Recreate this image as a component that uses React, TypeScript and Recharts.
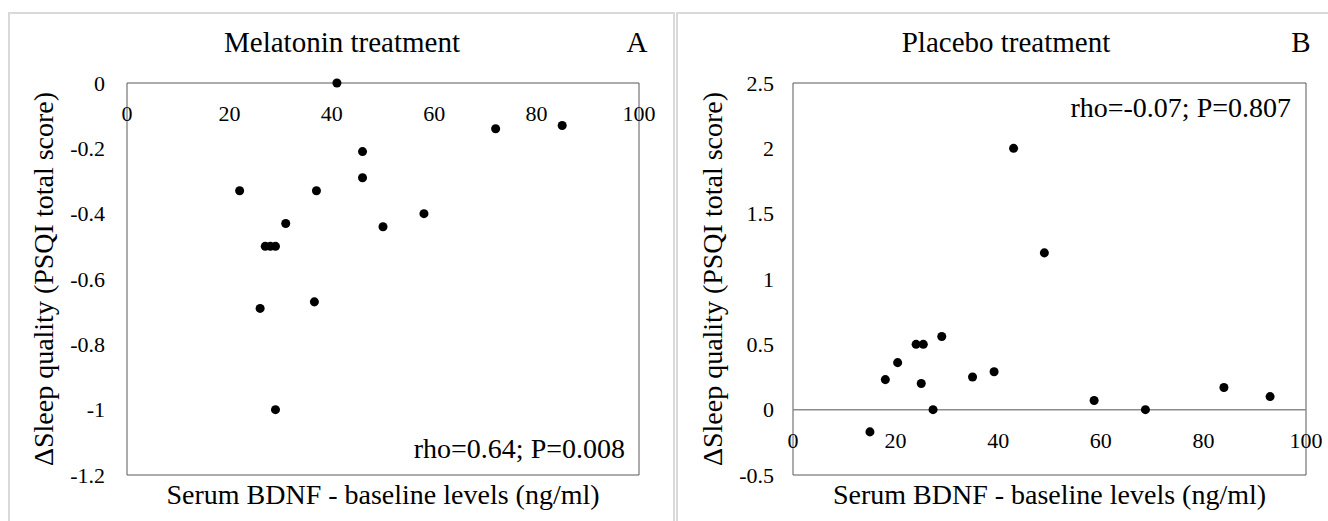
import { ReferenceArea, ReferenceDot, ReferenceLine, Scatter, ScatterChart, XAxis, YAxis } from 'recharts';

const FONT = '"Liberation Serif", "Times New Roman", serif';

// serum BDNF (x) and change in PSQI (y)
const melatoninBdnf = [41, 72, 85, 46, 46, 22, 37, 31, 50, 58, 27, 28, 29, 26, 36.6, 29];
const melatoninDelta = [0, -0.14, -0.13, -0.21, -0.29, -0.33, -0.33, -0.43, -0.44, -0.4, -0.5, -0.5, -0.5, -0.69, -0.67, -1];

const placeboBdnf = [15, 18, 20.4, 24, 25.4, 25, 29, 27.3, 35, 39.2, 43, 49, 58.7, 68.7, 84, 93];
const placeboDelta = [-0.17, 0.23, 0.36, 0.5, 0.5, 0.2, 0.56, 0, 0.25, 0.29, 2, 1.2, 0.07, 0, 0.17, 0.1];

const xTicks = [0, 20, 40, 60, 80, 100];
const melatoninYTicks = [-1.2, -1, -0.8, -0.6, -0.4, -0.2, 0];
const placeboYTicks = [-0.5, 0, 0.5, 1, 1.5, 2, 2.5];

const X_TITLE = 'Serum BDNF - baseline levels (ng/ml)';
const Y_TITLE = '\u0394Sleep quality (PSQI total score)';

const zip = (xs: number[], ys: number[]) => xs.map((x, i) => ({ x, y: ys[i] }));

// y tick text, drawn by hand so the serif font sticks
function YTick(props: any) {
  const { x, y, payload } = props;
  return (
    <text x={x} y={y} dy={7.5} textAnchor="end" fontFamily={FONT} fontSize={22} fill="#000">
      {payload.value}
    </text>
  );
}

// x tick label hanging under the y=0 axis line
function XTickAtZero(props: any) {
  const { cx, cy, label } = props;
  return (
    <text x={cx} y={cy + 38} textAnchor="middle" fontFamily={FONT} fontSize={22} fill="#000">
      {label}
    </text>
  );
}

type PanelProps = {
  left: number;
  title: string;
  letter: string;
  note: string;
  noteY: number;
  noteX: number;
  xs: number[];
  ys: number[];
  yTicks: number[];
  yAxisWidth: number;
  tickGap: number;
  marginRight: number;
  yTitleX: number;
  zeroLine?: boolean;
};

function Panel(p: PanelProps) {
  const yMin = p.yTicks[0];
  const yMax = p.yTicks[p.yTicks.length - 1];
  const plotCenter = (p.yAxisWidth + 664 - p.marginRight) / 2;
  return (
    <div style={{ position: 'absolute', left: p.left, top: 0 }}>
      <ScatterChart width={664} height={521} margin={{ top: 83, right: p.marginRight, bottom: 46, left: 0 }}>
        <XAxis type="number" dataKey="x" domain={[0, 100]} ticks={xTicks} hide />
        <YAxis
          type="number"
          dataKey="y"
          domain={[yMin, yMax]}
          ticks={p.yTicks}
          width={p.yAxisWidth}
          axisLine={false}
          tickLine={false}
          tickSize={0}
          tickMargin={p.tickGap}
          tick={<YTick />}
        />
        <ReferenceArea x1={0} x2={100} y1={yMin} y2={yMax} fill="none" stroke="#595959" strokeWidth={1} />
        {p.zeroLine && <ReferenceLine y={0} stroke="#8c8c8c" strokeWidth={1.5} />}
        {xTicks.map((t) => (
          <ReferenceDot key={t} x={t} y={0} r={1} shape={(s: any) => <XTickAtZero {...s} label={t} />} />
        ))}
        <Scatter data={zip(p.xs, p.ys)} fill="#000" isAnimationActive={false} />
        <text x={342} y={52} textAnchor="middle" fontFamily={FONT} fontSize={29} fill="#000">
          {p.title}
        </text>
        <text x={637} y={52} textAnchor="middle" fontFamily={FONT} fontSize={29} fill="#000">
          {p.letter}
        </text>
        <text x={p.noteX} y={p.noteY} textAnchor="end" fontFamily={FONT} fontSize={28} fill="#000">
          {p.note}
        </text>
        <text x={plotCenter} y={504} textAnchor="middle" fontFamily={FONT} fontSize={28} fill="#000">
          {X_TITLE}
        </text>
        <text
          x={p.yTitleX}
          y={279}
          textAnchor="middle"
          transform={`rotate(-90 ${p.yTitleX} 279)`}
          fontFamily={FONT}
          fontSize={28}
          fill="#000"
        >
          {Y_TITLE}
        </text>
      </ScatterChart>
    </div>
  );
}

export default function App() {
  return (
    <div
      style={{
        position: 'absolute',
        left: 0,
        top: 0,
        width: 1328,
        height: 521,
        overflow: 'hidden',
        background: '#fff',
        fontFamily: FONT,
      }}
    >
      <div style={{ position: 'absolute', left: 8, top: 12, width: 663, height: 540, border: '2px solid #d9d9d9' }} />
      <div style={{ position: 'absolute', left: 676, top: 12, width: 700, height: 540, border: '2px solid #d9d9d9' }} />
      <Panel
        left={0}
        title="Melatonin treatment"
        letter="A"
        note="rho=0.64; P=0.008"
        noteX={625}
        noteY={458}
        xs={melatoninBdnf}
        ys={melatoninDelta}
        yTicks={melatoninYTicks}
        yAxisWidth={127}
        tickGap={22}
        marginRight={25}
        yTitleX={53}
      />
      <Panel
        left={664}
        title="Placebo treatment"
        letter="B"
        note="rho=-0.07; P=0.807"
        noteX={627}
        noteY={117}
        xs={placeboBdnf}
        ys={placeboDelta}
        yTicks={placeboYTicks}
        yAxisWidth={129}
        tickGap={19}
        marginRight={22}
        yTitleX={58}
        zeroLine
      />
    </div>
  );
}
